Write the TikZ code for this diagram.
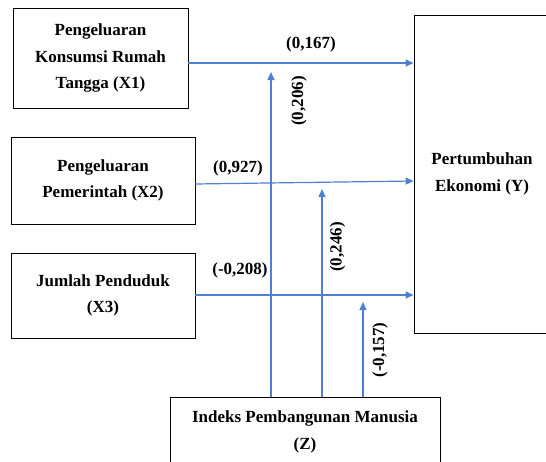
\documentclass[tikz,border=0pt]{standalone}
\usepackage{fontspec}
\setmainfont{Liberation Serif}
\usetikzlibrary{arrows.meta}
\definecolor{arrblue}{RGB}{79,129,209}
\begin{document}
\begin{tikzpicture}[x=1pt,y=-1pt,
  box/.style={draw=black,line width=0.9pt,inner sep=0pt,align=center,
    font=\fontsize{17}{26.5}\selectfont\bfseries},
  arr/.style={draw=arrblue,line width=1.2pt,-{Triangle[length=8pt,width=7pt]}},
  lbl/.style={font=\fontsize{17}{20}\selectfont\bfseries,inner sep=0pt}]
\useasboundingbox (0,0) rectangle (546,461);
\clip (0,0) rectangle (546,461);
\node[box,minimum width=175pt,minimum height=100pt] (X1) at (100.5,58)
  {Pengeluaran\\Konsumsi Rumah\\Tangga (X1)};
\node[box,minimum width=184pt,minimum height=87pt] (X2) at (103,180.5)
  {Pengeluaran\\Pemerintah (X2)};
\node[box,minimum width=184pt,minimum height=85pt] (X3) at (103,295.5)
  {Jumlah Penduduk\\(X3)};
\node[box,minimum width=136pt,minimum height=318pt] (Y) at (482,174)
  {Pertumbuhan\\Ekonomi (Y)};
\node[box,minimum width=270pt,minimum height=70pt] (Z) at (305,432)
  {Indeks Pembangunan Manusia\\(Z)};
% horizontal arrows
\coordinate (s1) at (188,63);
\coordinate (s2) at (195,184);
\coordinate (e2) at (414,181);
\coordinate (s3) at (195,295);
\draw[arr] (s1) -- (s1 -| Y.west);
\draw[arr] (s2) -- (e2 -| Y.west);
\draw[arr] (s3) -- (s3 -| Y.west);
% vertical arrows
\coordinate (t1) at (271,72);
\coordinate (t2) at (322,189);
\coordinate (t3) at (363,302);
\draw[arr] (t1 |- Z.north) -- (t1);
\draw[arr] (t2 |- Z.north) -- (t2);
\draw[arr] (t3 |- Z.north) -- (t3);
% labels
\node[lbl] (l1) at (311,44) {(0,167)};
\node[lbl] (l2) at (238,168) {(0,927)};
\node[lbl] (l3) at (240,270) {(-0,208)};
\node[lbl,rotate=90] (l4) at (299,101) {(0,206)};
\node[lbl,rotate=90] (l5) at (337.5,247) {(0,246)};
\node[lbl,rotate=90] (l6) at (380,350) {(-0,157)};
\end{tikzpicture}
\end{document}
